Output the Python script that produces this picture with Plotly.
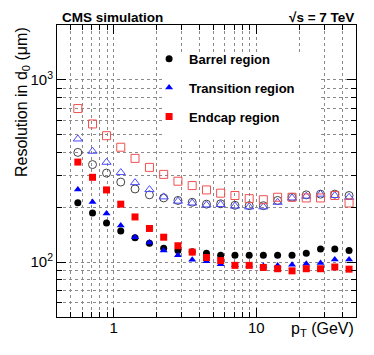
import numpy as np
import plotly.graph_objects as go

# pT bin centres (GeV), log spaced
pt = [0.56, 0.71, 0.89, 1.12, 1.41, 1.78, 2.24, 2.82, 3.55, 4.47,
      5.62, 7.08, 8.91, 11.2, 14.1, 17.8, 22.4, 28.2, 35.5, 44.7]

# d0 resolution (um), filled = one definition, open = the other
barrel = [212, 186, 164, 148, 136, 127, 119, 116, 114, 112,
          109, 109, 109, 109, 109, 109, 112, 118, 118, 116]
transition = [250, 214, 185, 159, 137, 128, 116, 109, 103, 101,
              97.5, 96.3, 95.7, 95.1, 95.7, 96.6, 98, 99, 103.5, 103.5]
endcap = [354, 292, 249, 208, 177, 153, 137, 123, 113.5, 106,
          102, 96, 96, 93.5, 92, 89.6, 92, 92, 94, 91.5]

barrel_open = [400, 343, 308, 275, 252, 234, 225, 218, 213, 208,
               209, 205, 204, 204, 218, 227, 234, 236, 236, 232]
transition_open = [474, 406, 353, 310, 273, 250, 228, 216, 211, 206,
                   207, 203, 201, 201, 213, 225, 230, 236, 232, 227]
endcap_open = [696, 573, 494, 427, 371, 331, 303, 278, 263, 249,
               239, 232, 223, 220, 227, 227, 225, 225, 232, 211]

labels = ["Barrel region", "Transition region", "Endcap region"]

fig = go.Figure()

# open markers first
for vals, sym, col in [(barrel_open, "circle-open", "#444444"),
                       (transition_open, "triangle-up-open", "#4a4aff"),
                       (endcap_open, "square-open", "#f05050")]:
    fig.add_trace(go.Scatter(x=pt, y=vals, mode="markers", showlegend=False,
                             marker=dict(symbol=sym, size=8, color=col,
                                         line=dict(width=1, color=col))))

# filled markers (these go into the legend)
for i, (vals, sym, col) in enumerate([(barrel, "circle", "black"),
                                      (transition, "triangle-up", "#0000ff"),
                                      (endcap, "square", "#ff0000")]):
    fig.add_trace(go.Scatter(x=pt, y=vals, mode="markers", name=labels[i],
                             legendgroup="g%d" % i,
                             marker=dict(symbol=sym, size=7, color=col,
                                         line=dict(width=0))))

grid = dict(showgrid=True, gridcolor="#8a8a8a", griddash="dot", gridwidth=1)

fig.update_xaxes(type="log", range=[np.log10(0.4), np.log10(50)],
                 tickvals=[1, 10], ticktext=["1", "10"],
                 ticks="inside", ticklen=9, tickcolor="black",
                 showline=True, linecolor="black", linewidth=1, mirror="ticks",
                 zeroline=False, ticklabelstandoff=-3,
                 tickfont=dict(size=15, color="black"),
                 minor=dict(tickvals=[0.5, 0.6, 0.7, 0.8, 0.9, 2, 3, 4, 5, 6, 7, 8, 9, 20, 30, 40],
                            ticks="inside", ticklen=5, tickcolor="black", **grid),
                 **grid)
fig.update_yaxes(type="log", range=[np.log10(50), np.log10(2000)],
                 tickvals=[100, 1000], ticktext=["10<sup>2</sup>", "10<sup>3</sup>"],
                 ticks="inside", ticklen=9, tickcolor="black",
                 showline=True, linecolor="black", linewidth=1, mirror="ticks",
                 zeroline=False,
                 tickfont=dict(size=15, color="black"),
                 minor=dict(tickvals=[60, 70, 80, 90, 200, 300, 400, 500, 600, 700, 800, 900],
                            ticks="inside", ticklen=5, tickcolor="black", **grid),
                 **grid)

# white box behind the legend hides the grid there
fig.add_shape(type="rect", xref="paper", yref="paper", layer="above",
              x0=0.355, x1=0.883, y0=0.606, y1=0.904,
              fillcolor="white", line=dict(width=0))

fig.add_annotation(text="<b>CMS simulation</b>", xref="paper", yref="paper",
                   x=0.01, y=1.0, xanchor="left", yanchor="middle", yshift=8,
                   showarrow=False, font=dict(size=13.5, color="black"))
fig.add_annotation(text="<b>√s = 7 TeV</b>", xref="paper", yref="paper",
                   x=1.0, y=1.0, xanchor="right", yanchor="middle", yshift=8,
                   showarrow=False, font=dict(size=13.5, color="black"))
fig.add_annotation(text="p<sub>T</sub> (GeV)", xref="paper", yref="paper",
                   x=1.0, y=0, xanchor="right", yanchor="top", yshift=-1,
                   showarrow=False, font=dict(size=16, color="black"))
fig.add_annotation(text="Resolution in d<sub>0</sub> (μm)", xref="paper", yref="paper",
                   x=0, y=1.0, xanchor="center", yanchor="top", xshift=-35,
                   textangle=-90, showarrow=False, font=dict(size=16, color="black"))

fig.update_layout(
    width=374, height=355,
    margin=dict(l=49, r=26, t=17, b=46),
    paper_bgcolor="white", plot_bgcolor="white",
    font=dict(family="Liberation Sans, Arial, sans-serif", color="black"),
    legend=dict(x=0.308, y=0.936, xanchor="left", yanchor="top",
                bgcolor="rgba(0,0,0,0)", traceorder="grouped", tracegroupgap=9,
                font=dict(size=13, color="black", weight="bold")),
)

fig.write_html("out.html")
